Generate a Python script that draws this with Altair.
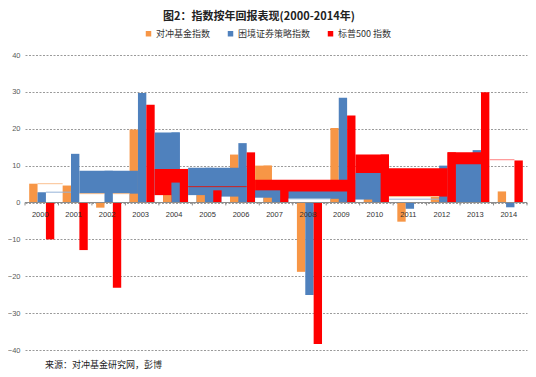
import altair as alt
import pandas as pd

# ---------------- data ----------------
years = list(range(2000, 2015))
series_names = ["对冲基金指数", "困境证券策略指数", "标普500 指数"]
series_colors = ["#F79646", "#4F81BD", "#FF0000"]
hedge = [5.1, 4.6, -1.4, 19.8, 2.0, 2.0, 13.0, 10.0, -18.8, 20.2, 0.8, -5.2, 1.6, 9.0, 3.0]
distressed = [2.8, 13.2, 8.6, 29.7, 19.0, 9.4, 16.1, 3.3, -25.1, 28.4, 8.0, -1.7, 10.0, 14.2, -1.3]
sp500 = [-10.0, -12.9, -23.1, 26.5, 9.1, 3.3, 13.6, 3.5, -38.4, 23.6, 13.0, 0.0, 13.6, 29.9, 11.4]

# wide overlapping blocks of the original (Excel) rendering, in drawing order
H, D, S, W = series_names[0], series_names[1], series_names[2], "白"
band_kind = [D, W, W, H,
             D, S, D, W, H,
             D, S, W, H, W, H,
             H, S, D, D, W, H, W, H,
             S, D, W, H,
             S, W, H, D, S, D]
band_from = [2001.125, 2001.125, 2002.125, 2002.625,
             2003.375, 2003.375, 2003.875, 2003.375, 2003.625,
             2004.375, 2005.125, 2004.375, 2004.625, 2005.375, 2005.625,
             2006.375, 2006.375, 2006.375, 2007.375, 2006.375, 2006.625, 2007.375, 2008.625,
             2009.375, 2009.375, 2009.375, 2009.625,
             2010.375, 2010.375, 2011.625, 2011.875, 2012.125, 2012.375]
band_to = [2002.875, 2001.875, 2002.625, 2002.875,
           2004.125, 2004.375, 2004.125, 2003.625, 2003.875,
           2006.125, 2005.375, 2004.625, 2004.875, 2005.625, 2005.875,
           2006.875, 2009.375, 2007.125, 2009.125, 2006.625, 2006.875, 2008.625, 2008.875,
           2010.375, 2010.125, 2009.625, 2009.875,
           2012.125, 2011.875, 2011.875, 2012.125, 2013.125, 2013.125]
band_top = [8.6, 2.4, 2.4, 2.4,
            19.0, 9.1, 5.4, 2.0, 2.0,
            9.4, 3.3, 2.0, 2.0, 1.6, 1.6,
            10.0, 6.2, 3.3, 3.0, 1.3, 1.3, 1.0, 1.0,
            13.0, 8.0, 0.8, 0.8,
            9.3, 1.6, 1.6, 1.6, 13.6, 10.4]

# thin outline edges
line_color = ["#FAC090", "#95B3D7", "#FAC090", "#FAC090", "#D02020",
              "#95B3D7", "#FAC090", "#95B3D7", "#FF8080"]
line_from = [1999.875, 2000.125, 2001.125, 2002.125, 2004.375,
             2007.375, 2010.375, 2010.375, 2013.375]
line_to = [2000.625, 2000.875, 2001.875, 2002.625, 2006.125,
           2008.625, 2011.875, 2011.875, 2014.125]
line_level = [5.1, 2.8, 2.4, 2.4, 4.3, 1.0, 1.6, 0.9, 11.6]

y_ticks = [-40, -30, -20, -10, 0, 10, 20, 30, 40]
title_text = "图2：指数按年回报表现(2000-2014年)"
source_text = "来源：对冲基金研究网，彭博"

# ---------------- tables ----------------
slot_start = [-0.375, -0.125, 0.125]
rows = []
for si, vals in enumerate([hedge, distressed, sp500]):
    for y, v in zip(years, vals):
        rows.append({"k": series_names[si], "x0": y + slot_start[si],
                     "x1": y + slot_start[si] + 0.25, "y0": 0.0, "y1": v})
bars = pd.DataFrame(rows)
bands = pd.DataFrame({"k": band_kind, "x0": band_from, "x1": band_to,
                      "y0": [0.0] * len(band_top), "y1": band_top})
lines = pd.DataFrame({"c": line_color, "x0": line_from, "x1": line_to, "y": line_level})
bounds = pd.DataFrame({"b": [years[0] - 0.5 + i for i in range(len(years) + 1)]})
labels = pd.DataFrame({"year": years, "t": [str(y) for y in years]})

FONT = "Liberation Sans"
CJK = "Noto Sans CJK SC"

xs = alt.Scale(domain=[1999.5, 2014.5], nice=False, zero=False)
ys = alt.Scale(domain=[-40, 40], nice=False, zero=False)
y_axis = alt.Axis(values=y_ticks, grid=True, gridDash=[2, 1.5], gridColor="#9A9A9A",
                  gridWidth=1, domain=False, ticks=False, labelFontSize=7.5,
                  labelColor="#595959", labelFont=FONT, labelPadding=5, title=None)
color = alt.Color("k:N",
                  scale=alt.Scale(domain=series_names + [W], range=series_colors + ["#FFFFFF"]),
                  legend=alt.Legend(values=series_names, title=None, orient="none",
                                    direction="horizontal", legendX=119, legendY=-26,
                                    symbolType="square", symbolSize=30, symbolStrokeWidth=0,
                                    labelFont=CJK, labelFontSize=9, labelColor="#333333",
                                    labelOffset=3, columnPadding=15))

bar_layer = alt.Chart(bars).mark_rect(strokeWidth=0).encode(
    x=alt.X("x0:Q", scale=xs, axis=None), x2="x1:Q",
    y=alt.Y("y0:Q", scale=ys, axis=y_axis), y2="y1:Q", color=color)

band_layer = alt.Chart(bands).mark_rect(strokeWidth=0).encode(
    x=alt.X("x0:Q", scale=xs, axis=None), x2="x1:Q",
    y=alt.Y("y0:Q", scale=ys, axis=y_axis), y2="y1:Q", color=color)

line_layer = alt.Chart(lines).mark_rule(strokeWidth=1).encode(
    x=alt.X("x0:Q", scale=xs, axis=None), x2="x1:Q",
    y=alt.Y("y:Q", scale=ys, axis=y_axis), color=alt.Color("c:N", scale=None))

axis_line = alt.Chart(pd.DataFrame({"a": [0]})).mark_rule(color="#8C8C8C", strokeWidth=1).encode(
    x=alt.X("xa:Q", scale=xs, axis=None), x2="xb:Q",
    y=alt.Y("a:Q", scale=ys, axis=y_axis)
).transform_calculate(xa="1999.5", xb="2014.5")

tick_layer = alt.Chart(bounds).mark_rule(color="#8C8C8C", strokeWidth=1).encode(
    x=alt.X("b:Q", scale=xs, axis=None),
    y=alt.Y("t0:Q", scale=ys, axis=y_axis), y2="t1:Q"
).transform_calculate(t0="0", t1="-0.8")

label_layer = alt.Chart(labels).mark_text(fontSize=7.5, font=FONT, color="#333333",
                                          baseline="middle", dy=12, dx=-1.5).encode(
    x=alt.X("year:Q", scale=xs, axis=None),
    y=alt.Y("z:Q", scale=ys, axis=y_axis), text="t:N"
).transform_calculate(z="0")

title_layer = alt.Chart(pd.DataFrame({"t": [title_text]})).mark_text(
    fontSize=11, font=CJK, fontWeight="bold", color="#222222", align="center",
    baseline="middle").encode(x=alt.value(234), y=alt.value(-38), text="t:N")

source_layer = alt.Chart(pd.DataFrame({"t": [source_text]})).mark_text(
    fontSize=9, font=CJK, color="#222222", align="left",
    baseline="middle").encode(x=alt.value(20), y=alt.value(310), text="t:N")

chart = alt.layer(bar_layer, band_layer, line_layer, axis_line, tick_layer, label_layer,
                  title_layer, source_layer).properties(
    width=502, height=295,
    autosize=alt.AutoSizeParams(type="none"),
    padding={"left": 17, "top": 47, "right": 1, "bottom": 26},
).configure_view(stroke=None)

chart.save("out.html", embed_options={"renderer": "svg", "actions": False})
